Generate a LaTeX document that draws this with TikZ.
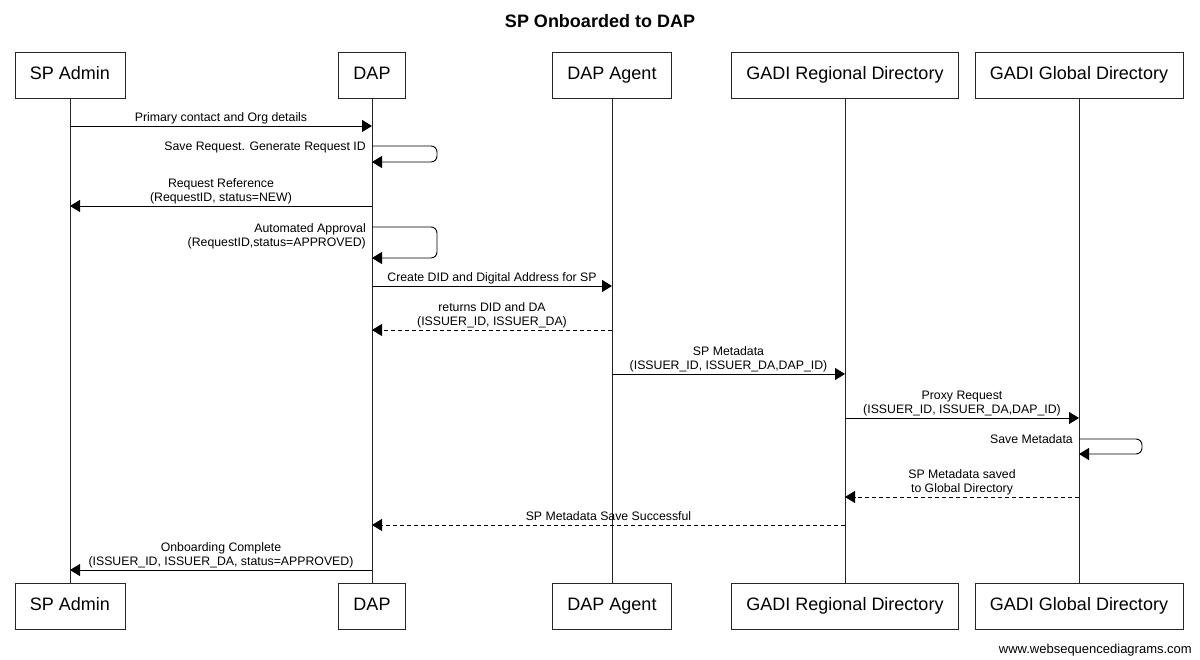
\documentclass[tikz,border=0pt]{standalone}
\usepackage{fontspec}
\setmainfont{Liberation Sans}
\usetikzlibrary{arrows.meta}
\newcommand\dps{\rule[-3pt]{0pt}{3pt}}
\begin{document}
\begin{tikzpicture}[x=1pt,y=-1pt,
  part/.style={draw=black!85, line width=0.8pt, minimum height=46pt, inner xsep=15pt, text height=13pt, text depth=4pt, font=\fontsize{18}{20}\selectfont},
  life/.style={draw=black!85, line width=0.9pt},
  msg/.style={line width=0.9pt, -{Triangle[length=10pt,width=12pt]}},
  ret/.style={msg, dash pattern=on 4pt off 3pt},
  lbl/.style={font=\fontsize{12.3}{14}\selectfont, inner sep=0pt, align=center, anchor=south, yshift=1pt},
  slbl/.style={font=\fontsize{12.3}{14}\selectfont, inner sep=0pt, align=right, anchor=south east},
  selfm/.style={msg, rounded corners=6pt}]
\useasboundingbox[fill=white] (0,0) rectangle (1200,660);

% title and footer
\node[font=\bfseries\fontsize{18}{20}\selectfont, anchor=base, inner sep=0pt] (title) at (600,28) {SP Onboarded to DAP};
\node[font=\fontsize{13}{15}\selectfont, anchor=base east, inner sep=0pt] (wsd) at (1192,653) {www.websequencediagrams.com};

% participants
\node[part] (saT) at (70,75) {SP Admin};
\node[part] (dpT) at (372,75) {DAP};
\node[part] (agT) at (612,75) {DAP Agent};
\node[part] (rgT) at (845,75) {GADI Regional Directory};
\node[part] (glT) at (1079,75) {GADI Global Directory};
\node[part] (saB) at (70,606) {SP Admin};
\node[part] (dpB) at (372,606) {DAP};
\node[part] (agB) at (612,606) {DAP Agent};
\node[part] (rgB) at (845,606) {GADI Regional Directory};
\node[part] (glB) at (1079,606) {GADI Global Directory};

% lifelines
\draw[life] (saT) -- (saB);
\draw[life] (dpT) -- (dpB);
\draw[life] (agT) -- (agB);
\draw[life] (rgT) -- (rgB);
\draw[life] (glT) -- (glB);

% 1
\coordinate (m1a) at (70,126); \coordinate (m1b) at (372,126);
\draw[msg] (m1a) -- node[lbl] (l1) {Primary contact and Org details\dps} (m1b);
% 2 self
\coordinate (m2a) at (372,146); \coordinate (m2b) at (372,162);
\draw[selfm] (m2a) -- ++(65,0) |- (m2b);
\node[slbl] (l2) at (366,154) {Save Request. Generate Request ID\dps};
% 3
\coordinate (m3a) at (372,206); \coordinate (m3b) at (70,206);
\draw[msg] (m3a) -- node[lbl] (l3) {Request Reference\\(RequestID, status=NEW)\dps} (m3b);
% 4 self
\coordinate (m4a) at (372,227); \coordinate (m4b) at (372,258);
\draw[selfm] (m4a) -- ++(65,0) |- (m4b);
\node[slbl] (l4) at (366,250) {Automated Approval\\(RequestID,status=APPROVED)\dps};
% 5
\coordinate (m5a) at (372,286); \coordinate (m5b) at (612,286);
\draw[msg] (m5a) -- node[lbl] (l5) {Create DID and Digital Address for SP\dps} (m5b);
% 6
\coordinate (m6a) at (612,330); \coordinate (m6b) at (372,330);
\draw[ret] (m6a) -- node[lbl] (l6) {returns DID and DA\\(ISSUER\_ID, ISSUER\_DA)\dps} (m6b);
% 7
\coordinate (m7a) at (612,374); \coordinate (m7b) at (845,374);
\draw[msg] (m7a) -- node[lbl] (l7) {SP Metadata\\(ISSUER\_ID, ISSUER\_DA,DAP\_ID)\dps} (m7b);
% 8
\coordinate (m8a) at (845,418); \coordinate (m8b) at (1079,418);
\draw[msg] (m8a) -- node[lbl] (l8) {Proxy Request\\(ISSUER\_ID, ISSUER\_DA,DAP\_ID)\dps} (m8b);
% 9 self
\coordinate (m9a) at (1079,439); \coordinate (m9b) at (1079,454);
\draw[selfm] (m9a) -- ++(63,0) |- (m9b);
\node[slbl] (l9) at (1073,447) {Save Metadata\dps};
% 10
\coordinate (m10a) at (1079,497); \coordinate (m10b) at (845,497);
\draw[ret] (m10a) -- node[lbl] (l10) {SP Metadata saved\\to Global Directory\dps} (m10b);
% 11
\coordinate (m11a) at (845,525); \coordinate (m11b) at (372,525);
\draw[ret] (m11a) -- node[lbl] (l11) {SP Metadata Save Successful\dps} (m11b);
% 12
\coordinate (m12a) at (372,570); \coordinate (m12b) at (70,570);
\draw[msg] (m12a) -- node[lbl] (l12) {Onboarding Complete\\(ISSUER\_ID, ISSUER\_DA, status=APPROVED)\dps} (m12b);
\end{tikzpicture}
\end{document}
